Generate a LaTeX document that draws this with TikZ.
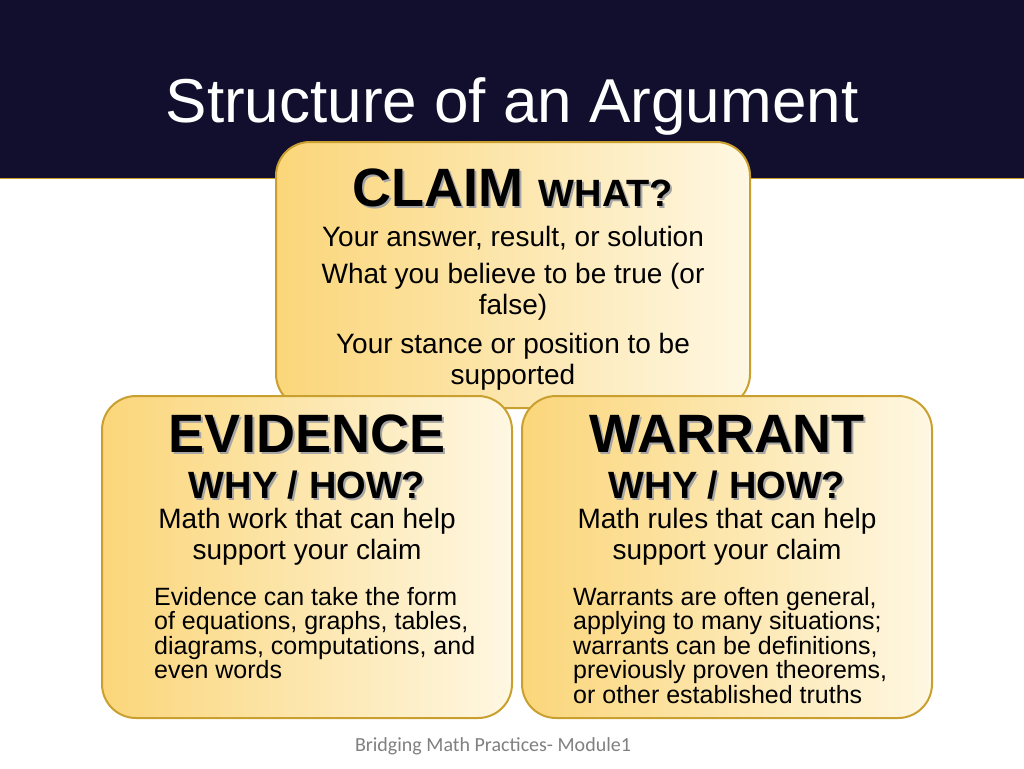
\documentclass[tikz,border=0pt]{standalone}
\usepackage{fontspec}
\setmainfont{Liberation Sans}
\newfontfamily\footfont{Carlito}
\definecolor{navy}{HTML}{120F2E}
\definecolor{gold}{HTML}{C9A030}
\definecolor{goldfill}{HTML}{FBD67A}
\definecolor{creamfill}{HTML}{FEF7E2}
\begin{document}
\begin{tikzpicture}[x=1pt,y=-1pt,
  panel/.style={draw=gold,line width=2pt,rounded corners=34pt,left color=goldfill,right color=creamfill},
  heading/.style={font=\fontsize{54}{58}\selectfont\bfseries,text=black,inner sep=0pt},
  shadowtxt/.style={text=gray!70},
  sub/.style={font=\fontsize{38}{40}\selectfont\bfseries,text=black,inner sep=0pt},
  body/.style={font=\fontsize{28}{31}\selectfont,align=center,inner sep=0pt},
  small/.style={font=\fontsize{25}{24.5}\selectfont,align=left,anchor=north west,inner sep=0pt}]
\useasboundingbox (0,0) rectangle (1024,768);
\fill[white] (0,0) rectangle (1024,768);
\fill[navy] (0,0) rectangle (1024,178);
\draw[gold,line width=1pt] (0,178.5) -- (1024,178.5);
\node[text=white,font=\fontsize{62}{66}\selectfont] (title) at (512,106) {Structure of an Argument};
% claim
\path[panel] (276,142) rectangle (750,408);
\node[heading,shadowtxt] (claims) at (515,190) {CLAIM \fontsize{38}{40}\selectfont WHAT?};
\node[heading] (claimh) at (513,188) {CLAIM \fontsize{38}{40}\selectfont WHAT?};
\node[body] (c1) at (513,238) {Your answer, result, or solution};
\node[body] (c2) at (513,292) {What you believe to be true (or\\false)};
\node[body] (c3) at (513,362) {Your stance or position to be\\supported};
% evidence
\path[panel] (102,396) rectangle (512,718);
\node[heading,shadowtxt] (evs) at (309,436) {EVIDENCE};
\node[heading] (evh) at (307,434) {EVIDENCE};
\node[sub,shadowtxt] (evws) at (309,487) {WHY / HOW?};
\node[sub] (evw) at (307,485) {WHY / HOW?};
\node[body] (ev1) at (307,537) {Math work that can help\\support your claim};
\node[small] (ev2) at (154,587) {Evidence can take the form\\of equations, graphs, tables,\\diagrams, computations, and\\even words};
% warrant
\path[panel] (522,396) rectangle (932,718);
\node[heading,shadowtxt] (was) at (729,436) {WARRANT};
\node[heading] (wah) at (727,434) {WARRANT};
\node[sub,shadowtxt] (waws) at (729,487) {WHY / HOW?};
\node[sub] (waw) at (727,485) {WHY / HOW?};
\node[body] (wa1) at (727,537) {Math rules that can help\\support your claim};
\node[small] (wa2) at (573,587) {Warrants are often general,\\applying to many situations;\\warrants can be definitions,\\previously proven theorems,\\or other established truths};
\node[text=gray,font=\footfont\fontsize{20}{22}\selectfont] (foot) at (493,746) {Bridging Math Practices- Module1};
\end{tikzpicture}
\end{document}
